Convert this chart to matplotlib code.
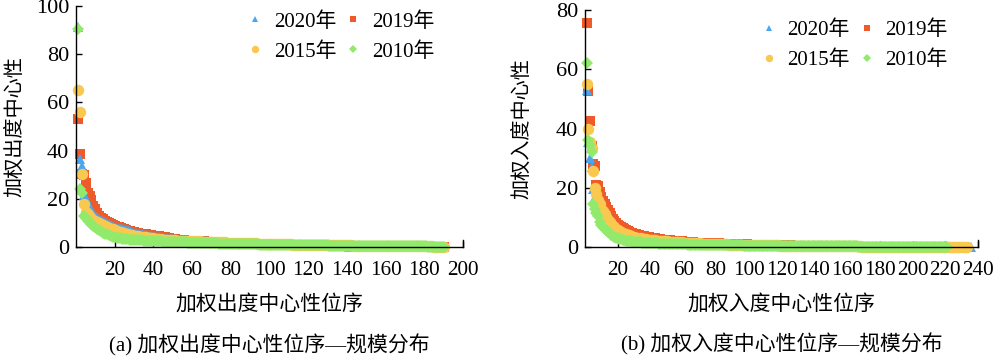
"""加权出度/入度中心性位序—规模分布 (2020/2019/2015/2010)"""
import numpy as np
import matplotlib
matplotlib.use("Agg")
import matplotlib.pyplot as plt

SERIF = ["Liberation Serif", "Noto Sans CJK SC"]
CJK = ["Noto Sans CJK SC", "DejaVu Sans"]
plt.rcParams["font.family"] = SERIF

YEARS = ["2020年", "2019年", "2015年", "2010年"]
COLORS = ["#4aa6ee", "#ef5a2a", "#f9c84f", "#92ea6c"]
MARKERS = ["^", "s", "o", "D"]
MSIZES = [7.5, 6.6, 8.2, 6.4]

# (a) 加权出度中心性，按位序排列
OUT_2020 = """
91.5 36.5 33.6 21.5 20.5 18 16.5 15 14 13
12.3 11.7 11.2 10.7 10.3 9.9 9.5 9.1 8.7 8.4
8.1 7.9 7.7 7.5 7.3 7.1 6.9 6.6 6.3 6.0
5.8 5.6 5.4 5.2 5.0 4.8 4.6 4.5 4.4 4.3
4.2 4.1 4.0 3.9 3.8 3.7 3.6 3.5 3.4 3.3
3.2 3.1 3.0 2.95 2.9 2.85 2.8 2.75 2.7 2.65
2.6 2.55 2.5 2.45 2.4 2.35 2.3 2.25 2.2 2.15
2.1 2.05 2.0 1.95 1.9 1.85 1.8 1.76 1.72 1.68
1.64 1.6 1.56 1.52 1.48 1.44 1.4 1.37 1.34 1.31
1.28 1.25 1.22 1.19 1.16 1.13 1.1 1.07 1.04 1.01
0.98 0.95 0.92 0.89 0.86 0.83 0.8 0.78 0.76 0.74
0.72 0.7 0.68 0.66 0.64 0.62 0.6 0.58 0.56 0.54
0.52 0.5 0.48 0.46 0.44 0.42 0.4 0.38 0.36 0.34
0.32 0.3 0.29 0.28 0.27 0.26 0.25 0.24 0.23 0.22
0.21 0.2 0.19 0.18 0.17 0.16 0.15 0.14 0.13 0.12
0.11 0.1 0.1 0.09 0.09 0.08 0.08 0.07 0.07 0.06
0.06 0.05 0.05 0.05 0.04 0.04 0.04 0.03 0.03 0.03
0.03 0.02 0.02 0.02 0.02 0.02 0.01 0.01 0.01 0.01
0.01 0.01 0.01 0.01 0.0 0.0 0.0 0.0 0.0 0.0
"""
OUT_2019 = """
53 38.7 30.5 30 26.6 22.5 21 19.5 17 15.7
14 13 12.2 11.5 11 10.5 10 9.6 9.2 8.8
8.5 8.2 7.9 7.6 7.3 7 6.8 6.6 6.4 6.2
6.0 5.8 5.6 5.5 5.3 5.2 5.0 4.9 4.8 4.7
4.6 4.5 4.4 4.3 4.2 4.0 3.8 3.6 3.4 3.3
3.2 3.1 3.0 2.9 2.8 2.8 2.7 2.7 2.6 2.6
2.5 2.5 2.4 2.4 2.3 2.3 2.2 2.2 2.1 2.1
2.0 2.0 1.95 1.9 1.9 1.85 1.8 1.8 1.75 1.7
1.7 1.65 1.6 1.6 1.55 1.5 1.5 1.45 1.4 1.4
1.35 1.3 1.3 1.25 1.2 1.2 1.15 1.1 1.1 1.05
1.0 1.0 0.98 0.96 0.94 0.92 0.9 0.88 0.86 0.84
0.82 0.8 0.78 0.76 0.74 0.72 0.7 0.69 0.68 0.67
0.66 0.65 0.64 0.63 0.62 0.61 0.6 0.59 0.58 0.57
0.56 0.55 0.54 0.53 0.52 0.51 0.5 0.49 0.48 0.47
0.46 0.45 0.44 0.43 0.42 0.41 0.4 0.39 0.38 0.37
0.36 0.35 0.34 0.33 0.32 0.31 0.3 0.29 0.28 0.27
0.26 0.25 0.24 0.23 0.22 0.21 0.2 0.19 0.18 0.17
0.16 0.15 0.14 0.13 0.12 0.11 0.1 0.09 0.08 0.07
0.06 0.05 0.05 0.04 0.04 0.03 0.03 0.02 0.02 0.01
"""
OUT_2015 = """
65 56 30.5 18 14.5 13.5 12.5 11.8 11.2 10.7
10.2 9.8 9.4 9.0 8.6 8.2 7.9 7.6 7.3 7.0
6.7 6.4 6.1 5.9 5.7 5.5 5.3 5.1 4.9 4.7
4.5 4.4 4.3 4.2 4.1 4.0 3.9 3.8 3.7 3.6
3.5 3.4 3.3 3.2 3.1 3.0 3.0 2.9 2.9 2.8
2.8 2.7 2.7 2.6 2.6 2.5 2.5 2.5 2.4 2.4
2.4 2.3 2.3 2.3 2.2 2.2 2.2 2.1 2.1 2.1
2.0 2.0 2.0 1.95 1.95 1.9 1.9 1.85 1.85 1.8
1.8 1.75 1.75 1.7 1.7 1.65 1.65 1.6 1.6 1.55
1.55 1.5 1.5 1.45 1.45 1.4 1.4 1.35 1.35 1.3
1.3 1.25 1.25 1.2 1.2 1.15 1.15 1.1 1.1 1.05
1.05 1.0 1.0 0.98 0.96 0.94 0.92 0.9 0.88 0.86
0.85 0.84 0.83 0.82 0.81 0.8 0.79 0.78 0.77 0.76
0.75 0.74 0.73 0.72 0.71 0.7 0.69 0.68 0.67 0.66
0.65 0.64 0.63 0.62 0.61 0.6 0.59 0.58 0.57 0.56
0.55 0.54 0.53 0.52 0.51 0.5 0.49 0.48 0.47 0.46
0.45 0.44 0.43 0.42 0.41 0.4 0.39 0.38 0.37 0.36
0.35 0.34 0.33 0.32 0.31 0.3 0.29 0.28 0.27 0.26
0.25 0.24 0.23 0.22 0.21 0.2 0.19 0.18 0.17 0.16
"""
OUT_2010 = """
90.5 24 22.5 13 12 11 10.3 9.6 8.9 8.2
7.6 7.0 6.5 6.0 5.6 5.2 4.9 4.6 4.3 4.1
3.9 3.7 3.6 3.5 3.4 3.3 3.2 3.1 3.0 2.95
2.9 2.85 2.8 2.75 2.7 2.65 2.6 2.55 2.5 2.45
2.4 2.35 2.3 2.3 2.25 2.2 2.2 2.15 2.1 2.1
2.05 2.0 2.0 1.95 1.95 1.9 1.9 1.85 1.85 1.8
1.8 1.75 1.75 1.7 1.7 1.65 1.65 1.6 1.6 1.55
1.55 1.5 1.5 1.45 1.45 1.4 1.4 1.38 1.36 1.34
1.32 1.3 1.28 1.26 1.24 1.22 1.2 1.18 1.16 1.14
1.12 1.1 1.08 1.06 1.04 1.02 1.0 0.98 0.96 0.94
0.93 0.92 0.91 0.9 0.89 0.88 0.87 0.86 0.85 0.84
0.83 0.82 0.81 0.8 0.79 0.78 0.77 0.76 0.75 0.74
0.73 0.72 0.71 0.7 0.69 0.68 0.67 0.66 0.65 0.64
0.63 0.62 0.61 0.6 0.59 0.58 0.57 0.56 0.55 0.54
0.53 0.52 0.51 0.5 0.49 0.48 0.47 0.46 0.45 0.44
0.43 0.42 0.41 0.4 0.39 0.38 0.37 0.36 0.35 0.34
0.33 0.32 0.31 0.3 0.3 0.29 0.29 0.28 0.28 0.27
0.27 0.26 0.26 0.25 0.25 0.24 0.24 0.23 0.23 0.22
0.22 0.21 0.21 0.2 0.2 0.19 0.19 0.18 0.18 0.17
"""

# (b) 加权入度中心性，按位序排列
IN_2020 = """
53 35.5 30 27 19.5 17 15 13.5 12 11
10 9.2 8.5 7.9 7.3 6.8 6.3 5.9 5.5 5.2
4.9 4.6 4.4 4.2 4.0 3.8 3.6 3.5 3.4 3.3
3.2 3.1 3.0 2.9 2.8 2.7 2.6 2.55 2.5 2.45
2.4 2.35 2.3 2.25 2.2 2.15 2.1 2.05 2.0 1.95
1.9 1.86 1.82 1.78 1.74 1.7 1.66 1.62 1.58 1.54
1.5 1.47 1.44 1.41 1.38 1.35 1.32 1.29 1.26 1.23
1.2 1.18 1.16 1.14 1.12 1.1 1.08 1.06 1.04 1.02
1.0 0.98 0.96 0.94 0.92 0.9 0.88 0.86 0.84 0.82
0.8 0.78 0.76 0.74 0.72 0.7 0.68 0.66 0.64 0.62
0.6 0.59 0.58 0.57 0.56 0.55 0.54 0.53 0.52 0.51
0.5 0.49 0.48 0.47 0.46 0.45 0.44 0.43 0.42 0.41
0.4 0.39 0.38 0.37 0.36 0.35 0.34 0.33 0.32 0.31
0.3 0.29 0.28 0.27 0.26 0.25 0.24 0.23 0.22 0.21
0.2 0.2 0.19 0.19 0.18 0.18 0.17 0.17 0.16 0.16
0.15 0.15 0.14 0.14 0.13 0.13 0.12 0.12 0.11 0.11
0.1 0.1 0.1 0.09 0.09 0.09 0.08 0.08 0.08 0.07
0.07 0.07 0.06 0.06 0.06 0.05 0.05 0.05 0.05 0.04
0.04 0.04 0.04 0.03 0.03 0.03 0.03 0.03 0.02 0.02
0.02 0.02 0.02 0.02 0.01 0.01 0.01 0.01 0.01 0.01
0.01 0.01 0.01 0.01 0.01 0.01 0.0 0.0 0.0 0.0
0.0 0.0 0.0 0.0 0.0 0.0 0.0 0.0 0.0 0.0
0.0 0.0 0.0 0.0 0.0 0.0 0.0 0.0 0.0 0.0
0.0 0.0 0.0 0.0 0.0 0.0
"""
IN_2019 = """
75.5 52.5 42.5 34 28 27.5 21 20.5 18.5 17
15.5 14.5 13.5 12.5 11.5 10.5 9.5 8.8 8.2 7.6
7.1 6.7 6.3 6.0 5.7 5.4 5.1 4.9 4.7 4.5
4.3 4.1 3.9 3.8 3.7 3.6 3.5 3.4 3.3 3.2
3.1 3.0 2.9 2.8 2.7 2.6 2.5 2.45 2.4 2.35
2.3 2.25 2.2 2.15 2.1 2.05 2.0 1.95 1.9 1.85
1.8 1.75 1.7 1.65 1.6 1.55 1.5 1.48 1.46 1.44
1.42 1.4 1.38 1.36 1.34 1.32 1.3 1.28 1.26 1.24
1.22 1.2 1.18 1.16 1.14 1.12 1.1 1.08 1.06 1.04
1.02 1.0 0.98 0.96 0.94 0.92 0.9 0.88 0.86 0.84
0.82 0.8 0.78 0.76 0.74 0.72 0.7 0.69 0.68 0.67
0.66 0.65 0.64 0.63 0.62 0.61 0.6 0.59 0.58 0.57
0.56 0.55 0.54 0.53 0.52 0.51 0.5 0.49 0.48 0.47
0.46 0.45 0.44 0.43 0.42 0.41 0.4 0.39 0.38 0.37
0.36 0.35 0.34 0.33 0.32 0.31 0.3 0.29 0.28 0.27
0.26 0.25 0.24 0.23 0.22 0.21 0.2 0.2 0.19 0.19
0.18 0.18 0.17 0.17 0.16 0.16 0.15 0.15 0.14 0.14
0.13 0.13 0.12 0.12 0.11 0.11 0.1 0.1 0.1 0.09
0.09 0.09 0.08 0.08 0.08 0.07 0.07 0.07 0.06 0.06
0.06 0.05 0.05 0.05 0.05 0.04 0.04 0.04 0.04 0.03
0.03 0.03 0.03 0.03 0.02 0.02 0.02 0.02 0.02 0.02
0.01 0.01 0.01 0.01 0.01 0.01 0.01 0.01 0.01 0.01
0.0 0.0 0.0 0.0 0.0
"""
IN_2015 = """
55 40 35.5 33.5 25.5 20 18 16 14.5 13
12 11 10 9.2 8.5 7.8 7.2 6.7 6.2 5.8
5.4 5.1 4.8 4.5 4.3 4.1 3.9 3.7 3.5 3.3
3.2 3.1 3.0 2.9 2.8 2.7 2.6 2.5 2.45 2.4
2.35 2.3 2.25 2.2 2.15 2.1 2.05 2.0 1.95 1.9
1.86 1.82 1.78 1.74 1.7 1.66 1.62 1.58 1.54 1.5
1.47 1.44 1.41 1.38 1.35 1.32 1.29 1.26 1.23 1.2
1.18 1.16 1.14 1.12 1.1 1.08 1.06 1.04 1.02 1.0
0.98 0.96 0.94 0.92 0.9 0.88 0.86 0.84 0.82 0.8
0.79 0.78 0.77 0.76 0.75 0.74 0.73 0.72 0.71 0.7
0.69 0.68 0.67 0.66 0.65 0.64 0.63 0.62 0.61 0.6
0.59 0.58 0.57 0.56 0.55 0.54 0.53 0.52 0.51 0.5
0.49 0.48 0.47 0.46 0.45 0.44 0.43 0.42 0.41 0.4
0.39 0.38 0.37 0.36 0.35 0.34 0.33 0.32 0.31 0.3
0.3 0.29 0.29 0.28 0.28 0.27 0.27 0.26 0.26 0.25
0.25 0.24 0.24 0.23 0.23 0.22 0.22 0.21 0.21 0.2
0.2 0.2 0.19 0.19 0.19 0.18 0.18 0.18 0.17 0.17
0.17 0.16 0.16 0.16 0.15 0.15 0.15 0.14 0.14 0.14
0.13 0.13 0.13 0.12 0.12 0.12 0.11 0.11 0.11 0.1
0.1 0.1 0.1 0.09 0.09 0.09 0.09 0.08 0.08 0.08
0.08 0.07 0.07 0.07 0.07 0.06 0.06 0.06 0.06 0.05
0.05 0.05 0.05 0.05 0.04 0.04 0.04 0.04 0.04 0.03
0.03 0.03 0.03 0.03 0.02 0.02 0.02 0.02 0.02 0.01
0.01 0.01 0.01
"""
IN_2010 = """
62 36 34.5 32 14.5 13 11.5 10.5 8.5 7.5
6.8 6.2 5.6 5.1 4.6 4.2 3.8 3.5 3.2 3.0
2.8 2.6 2.45 2.3 2.2 2.1 2.0 1.9 1.8 1.75
1.7 1.65 1.6 1.55 1.5 1.45 1.4 1.35 1.3 1.28
1.26 1.24 1.22 1.2 1.18 1.16 1.14 1.12 1.1 1.08
1.06 1.04 1.02 1.0 0.98 0.96 0.94 0.92 0.9 0.88
0.87 0.86 0.85 0.84 0.83 0.82 0.81 0.8 0.79 0.78
0.77 0.76 0.75 0.74 0.73 0.72 0.71 0.7 0.69 0.68
0.67 0.66 0.65 0.64 0.63 0.62 0.61 0.6 0.59 0.58
0.57 0.56 0.55 0.54 0.53 0.52 0.51 0.5 0.5 0.49
0.49 0.48 0.48 0.47 0.47 0.46 0.46 0.45 0.45 0.44
0.44 0.43 0.43 0.42 0.42 0.41 0.41 0.4 0.4 0.39
0.39 0.38 0.38 0.37 0.37 0.36 0.36 0.35 0.35 0.34
0.34 0.33 0.33 0.32 0.32 0.31 0.31 0.3 0.3 0.29
0.29 0.28 0.28 0.27 0.27 0.26 0.26 0.25 0.25 0.24
0.24 0.23 0.23 0.22 0.22 0.21 0.21 0.2 0.2 0.2
0.19 0.19 0.19 0.18 0.18 0.18 0.17 0.17 0.17 0.16
0.16 0.16 0.15 0.15 0.15 0.14 0.14 0.14 0.13 0.13
0.13 0.12 0.12 0.12 0.11 0.11 0.11 0.1 0.1 0.1
0.09 0.09 0.09 0.08 0.08 0.08 0.07 0.07 0.07 0.06
0.06 0.06 0.05 0.05 0.05 0.04 0.04 0.04 0.03 0.03
0.03 0.02 0.02 0.02 0.01 0.01 0.01 0.01 0.0 0.0 0.0
"""

OUT_SERIES = [OUT_2020, OUT_2019, OUT_2015, OUT_2010]
IN_SERIES = [IN_2020, IN_2019, IN_2015, IN_2010]

OUT_XTICKS = list(range(20, 201, 20))
IN_XTICKS = list(range(20, 241, 20))
OUT_YTICKS = list(range(0, 101, 20))
IN_YTICKS = list(range(0, 81, 20))

# 绘制顺序：红在最底，其次蓝、黄，绿在最上
DRAW_ORDER = [1, 0, 2, 3]


def _parse(s):
    return np.array(s.split(), dtype=float)


def draw_panel(ax, series, xmax, ymax, xticks, yticks, ylabel, xlabel, caption,
               leg_anchor, ylab_x):
    handles = {}
    for i in DRAW_ORDER:
        y = _parse(series[i])
        x = np.arange(1, len(y) + 1)
        (h,) = ax.plot(x, y, linestyle="none", marker=MARKERS[i], ms=MSIZES[i],
                       color=COLORS[i], markeredgewidth=0, label=YEARS[i],
                       clip_on=False)
        handles[i] = h

    ax.set_xlim(0, xmax)
    ax.set_ylim(0, ymax)
    ax.set_xticks(xticks)
    ax.set_yticks(yticks)
    ax.tick_params(axis="both", direction="in", length=4, width=1)
    ax.tick_params(axis="x", pad=10, labelsize=15.2)
    ax.tick_params(axis="y", pad=5, labelsize=16)
    for side in ("top", "right"):
        ax.spines[side].set_visible(False)
    for side in ("left", "bottom"):
        ax.spines[side].set_linewidth(1.0)
    # 右端的小竖线
    ax.plot([xmax, xmax], [0, ymax * 0.03], color="black", lw=1.0, clip_on=False)

    ax.set_ylabel(ylabel, family=CJK, fontsize=14.5)
    ax.yaxis.set_label_coords(ylab_x, 0.5)
    ax.set_xlabel(xlabel, family=CJK, fontsize=15, labelpad=9)
    ax.text(0.5, -0.41, caption, transform=ax.transAxes, ha="center", va="center",
            family=SERIF, fontsize=15)

    order = [0, 2, 1, 3]
    ax.legend([handles[i] for i in order], [YEARS[i] for i in order], ncol=2,
              frameon=False, loc="upper left", bbox_to_anchor=leg_anchor,
              fontsize=15, handlelength=0.8, handletextpad=0.5, columnspacing=0.4,
              labelspacing=0.5, markerscale=0.65, borderaxespad=0)


fig = plt.figure(figsize=(10, 3.58), dpi=100)
ax1 = fig.add_axes([0.076, 0.310, 0.387, 0.673])
ax2 = fig.add_axes([0.585, 0.310, 0.393, 0.662])

draw_panel(ax1, OUT_SERIES, 200, 100, OUT_XTICKS, OUT_YTICKS,
           "加权出度中心性", "加权出度中心性位序",
           "(a) 加权出度中心性位序—规模分布", (0.42, 1.01), -0.132)
draw_panel(ax2, IN_SERIES, 240, 80, IN_XTICKS, IN_YTICKS,
           "加权入度中心性", "加权入度中心性位序",
           "(b) 加权入度中心性位序—规模分布", (0.425, 0.99), -0.135)

fig.savefig("out.png", dpi=100)
